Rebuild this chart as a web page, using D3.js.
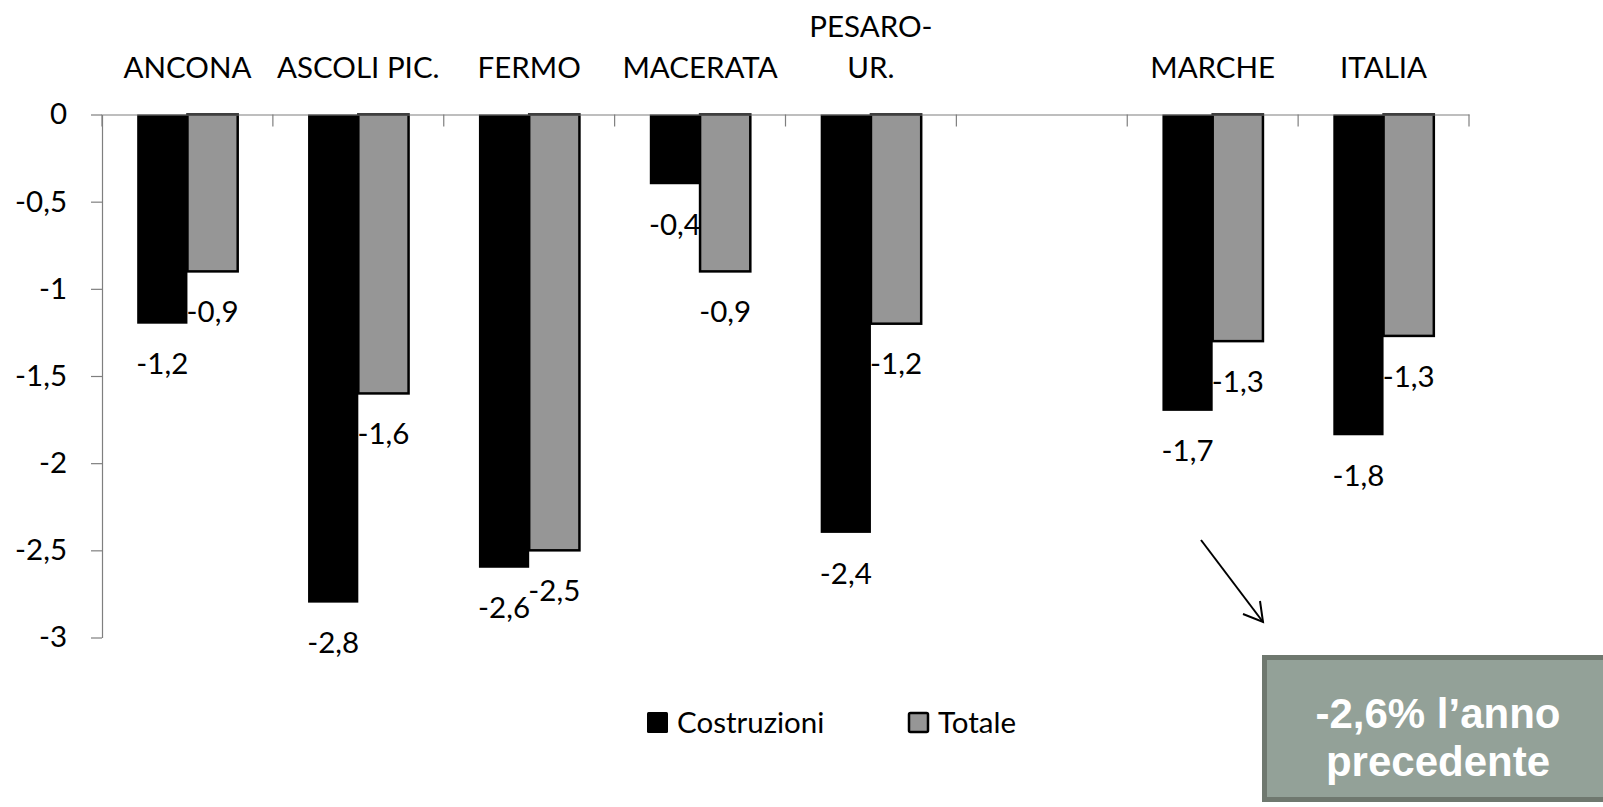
<!DOCTYPE html>
<html>
<head>
<meta charset="utf-8">
<script src="https://cdn.jsdelivr.net/npm/d3@7/dist/d3.min.js"></script>
<style>
  html, body { margin: 0; padding: 0; background: #fff; }
  svg { display: block; }
  text { font-family: Lato, "Open Sans", sans-serif; fill: #000; }
</style>
</head>
<body>
<svg id="chart" width="1603" height="807"></svg>
<script>
const categories = ["ANCONA", "ASCOLI PIC.", "FERMO", "MACERATA", "PESARO-UR.", "", "MARCHE", "ITALIA"];
const costruzioni = [-1.2, -2.8, -2.6, -0.4, -2.4, null, -1.7, -1.84];
const totale = [-0.9, -1.6, -2.5, -0.9, -1.2, null, -1.3, -1.27];
const seriesNames = ["Costruzioni", "Totale"];
const yTicks = [0, -0.5, -1, -1.5, -2, -2.5, -3];
const noteLines = ["-2,6% l\u2019anno", "precedente"];

const colors = { "Costruzioni": "#000000", "Totale": "#969696" };
const fontSize = 29.5;

const svg = d3.select("#chart");
const loc = d3.formatLocale({ decimal: ",", thousands: ".", grouping: [3], currency: ["", "\u20ac"], minus: "-" });
const tickFmt = loc.format(".2~f");
const labelFmt = loc.format(".1f");

const x = d3.scaleBand().domain(categories).range([102, 1469]).paddingInner(0).paddingOuter(0);
const xs = d3.scaleBand().domain(seriesNames).range([0, x.bandwidth()]).paddingInner(0).paddingOuter(0.7);
const y = d3.scaleLinear().domain([-3, 0]).range([637.5, 114.5]);

const rows = categories.map((c, i) => ({ cat: c, values: [
  { s: "Costruzioni", v: costruzioni[i] }, { s: "Totale", v: totale[i] }
]}));

// Bars
const g = svg.append("g");
const groups = g.selectAll("g.cat").data(rows).join("g")
  .attr("transform", d => `translate(${x(d.cat)},0)`);
groups.selectAll("rect").data(d => d.values.filter(e => e.v !== null)).join("rect")
  .attr("x", d => xs(d.s))
  .attr("y", y(0))
  .attr("width", xs.bandwidth())
  .attr("height", d => y(d.v) - y(0))
  .attr("fill", d => colors[d.s])
  .attr("stroke", d => d.s === "Totale" ? "#000" : "none")
  .attr("stroke-width", 2.5);

// Y axis
const yAxis = svg.append("g").attr("transform", `translate(${x.range()[0]},0)`)
  .call(d3.axisLeft(y).tickValues(yTicks).tickFormat(tickFmt).tickSize(11).tickSizeOuter(0).tickPadding(24));
yAxis.selectAll("path, line").attr("stroke", "#7f7f7f").attr("stroke-width", 1.2);
yAxis.selectAll("text").style("font-size", fontSize + "px").style("font-family", "Lato").attr("fill", "#000");

// Top category axis
const xAxis = svg.append("g").attr("transform", `translate(0,${y(0)})`)
  .call(d3.axisTop(x).tickSize(0).tickSizeOuter(0).tickPadding(37));
xAxis.select(".domain").attr("stroke", "#7f7f7f").attr("stroke-width", 1.2);
xAxis.selectAll("text").style("font-size", fontSize + "px").style("font-family", "Lato").attr("fill", "#000")
  .each(function(d) {
    const t = d3.select(this);
    const idx = d.indexOf("-");
    if (idx > 0) {
      const parts = [d.slice(0, idx + 1), d.slice(idx + 1)];
      t.text(null);
      t.append("tspan").attr("x", 0).attr("dy", "-1.36em").text(parts[0]);
      t.append("tspan").attr("x", 0).attr("dy", "1.36em").text(parts[1]);
    }
  });
// boundary ticks on category axis
const bounds = categories.map(c => x(c)).concat([x.range()[1]]);
svg.append("g").selectAll("line").data(bounds).join("line")
  .attr("x1", d => d).attr("x2", d => d)
  .attr("y1", y(0)).attr("y2", y(0) + 12)
  .attr("stroke", "#7f7f7f").attr("stroke-width", 1.2);

// Data labels
groups.selectAll("text.lbl").data(d => d.values.filter(e => e.v !== null)).join("text")
  .attr("class", "lbl")
  .attr("x", d => xs(d.s) + xs.bandwidth() / 2)
  .attr("y", d => y(d.v) + 40)
  .attr("dy", "0.36em")
  .attr("text-anchor", "middle")
  .style("font-size", fontSize + "px")
  .text(d => labelFmt(d.v));

// Legend
const legendX = [647, 908];
const lg = svg.append("g").selectAll("g").data(seriesNames).join("g")
  .attr("transform", (d, i) => `translate(${legendX[i]},712)`);
lg.append("rect").attr("x", d => d === "Totale" ? 1 : 0).attr("y", d => d === "Totale" ? 1 : 0)
  .attr("width", d => d === "Totale" ? 19 : 21).attr("height", d => d === "Totale" ? 19 : 21)
  .attr("rx", 1.5)
  .attr("fill", d => colors[d])
  .attr("stroke", d => d === "Totale" ? "#000" : "none").attr("stroke-width", 2.5);
lg.append("text").attr("x", 30).attr("y", 21).style("font-size", fontSize + "px").text(d => d);

// Arrow
const arrow = svg.append("g").attr("stroke", "#000").attr("stroke-width", 2).attr("fill", "none");
arrow.append("line").attr("x1", 1201).attr("y1", 540).attr("x2", 1263).attr("y2", 622);
arrow.append("polyline").attr("points", "1243,614 1263,622 1260,601");

// Annotation box
svg.append("rect").attr("x", 1264.5).attr("y", 657.5).attr("width", 360).attr("height", 142)
  .attr("fill", "#93a198").attr("stroke", "#6f786f").attr("stroke-width", 5);
svg.append("g").selectAll("text").data(noteLines).join("text")
  .attr("x", 1438).attr("y", (d, i) => 728 + i * 48)
  .attr("text-anchor", "middle")
  .style("font-family", "'Liberation Sans', Arial, sans-serif")
  .style("font-weight", "bold")
  .style("font-size", "42px")
  .attr("fill", "#fff")
  .style("fill", "#fff")
  .text(d => d);
</script>
</body>
</html>
